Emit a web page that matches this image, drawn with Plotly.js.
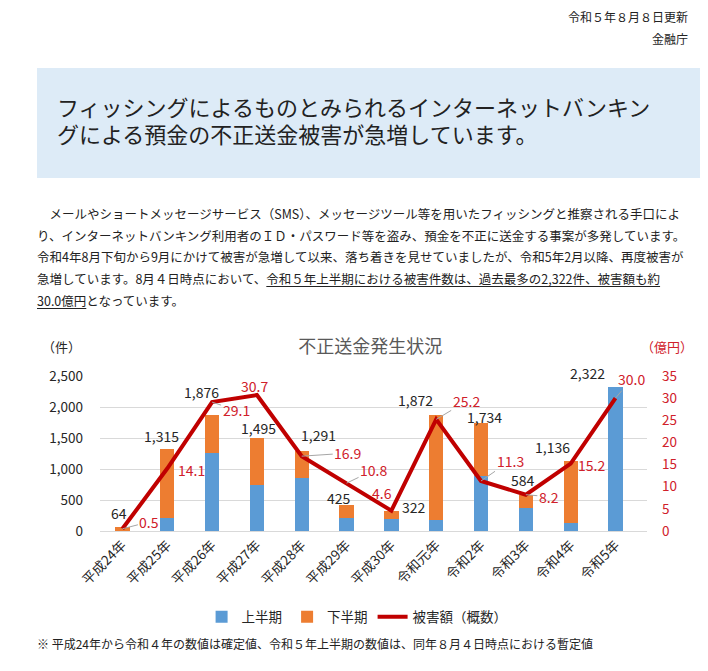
<!DOCTYPE html>
<html><head><meta charset="utf-8">
<script src="https://cdn.plot.ly/plotly-3.0.1.min.js"></script>
<style>
html,body{margin:0;padding:0;background:#fff;width:708px;height:671px;overflow:hidden;font-family:"Noto Sans CJK JP","Noto Sans",sans-serif;color:#222;}
.abs{position:absolute;white-space:nowrap;}
#chart{position:absolute;left:0;top:0;width:708px;height:671px;}
u{text-decoration:underline;text-underline-offset:2px;}
.h{position:absolute;left:57px;font-size:22px;line-height:27px;height:27px;color:#222;white-space:nowrap;}
</style></head>
<body>
<div class="abs" style="right:20px;top:9px;font-size:12px;line-height:16px;text-align:right;">令和５年８月８日更新</div>
<div class="abs" style="right:20px;top:31px;font-size:12px;line-height:16px;text-align:right;">金融庁</div>
<div class="abs" style="left:37px;top:68px;width:663px;height:110px;background:#DDEBF7;"></div>
<div class="h" style="top:93px;">フィッシングによるものとみられるインターネットバンキン</div>
<div class="h" style="top:120px;">グによる預金の不正送金被害が急増しています。</div>
<div class="abs" style="left:37px;top:203px;font-size:12.5px;line-height:21.7px;color:#222;">
　メールやショートメッセージサービス（SMS）、メッセージツール等を用いたフィッシングと推察される手口によ<br>り、インターネットバンキング利用者のＩＤ・パスワード等を盗み、預金を不正に送金する事案が多発しています。<br>令和4年8月下旬から9月にかけて被害が急増して以来、落ち着きを見せていましたが、令和5年2月以降、再度被害が<br>急増しています。8月４日時点において、<u>令和５年上半期における被害件数は、過去最多の2,322件、被害額も約</u><br><u>30.0億円</u>となっています。</div>
<div id="chart"></div>
<div class="abs" style="left:37px;top:636px;font-size:12px;line-height:16px;color:#222;">※ 平成24年から令和４年の数値は確定値、令和５年上半期の数値は、同年８月４日時点における暫定値</div>
<script>
const categories = ["平成24年","平成25年","平成26年","平成27年","平成28年","平成29年","平成30年","令和元年","令和2年","令和3年","令和4年","令和5年"];
const firstHalf  = [0, 209, 1254, 750, 850, 206, 200, 179, 882, 373, 135, 2322];
const secondHalf = [64, 1106, 622, 745, 441, 219, 122, 1693, 852, 211, 1001, 0];
const damage     = [0.5, 14.1, 29.1, 30.7, 16.9, 10.8, 4.6, 25.2, 11.3, 8.2, 15.2, 30.0];
const countTickVals = [0, 500, 1000, 1500, 2000, 2500];
const amountTickVals = [0, 5, 10, 15, 20, 25, 30, 35];

// label placement (pixel offsets, styling only)
const totalShiftX = [-3, -6, -11, 2, 17, -8, 23, -21, 3, -3, -18, -28];
const totalShiftY = [14, 13, 23, 10, 16, 7, 4, 15, 6, 15, 14, 14];
const dmgAx = [27, 24, 24, -2, 46, 27, -9, 30, 29, 23, 21, 16];
const dmgAy = [-7, 1, 8, -9, -3, -13, -18, -18, -20, 2, 1, -19];
const dmgLeader = [true, false, true, false, true, true, false, true, true, true, false, true];

const totals = categories.map((c,i)=>firstHalf[i]+secondHalf[i]);
const fmt = n => n.toLocaleString('en-US');
const jp = '"Noto Sans CJK JP", "Noto Sans", sans-serif';
const red = '#D0202A';

const traces = [
  {type:'bar', name:'上半期', x:categories, y:firstHalf, marker:{color:'#5B9BD5'}, hoverinfo:'skip'},
  {type:'bar', name:'下半期', x:categories, y:secondHalf, marker:{color:'#ED7D31'}, hoverinfo:'skip'},
  {type:'scatter', mode:'lines', name:'被害額（概数）', x:categories, y:damage, yaxis:'y2', line:{color:'#C00000', width:4}, hoverinfo:'skip'}
];

const annotations = [];
categories.forEach((c,i)=>{
  annotations.push({x:c, y:totals[i], xref:'x', yref:'y', text:fmt(totals[i]), showarrow:false,
    xshift:totalShiftX[i], yshift:totalShiftY[i], font:{family:jp, size:14, color:'#262626'}});
  annotations.push({x:c, y:damage[i], xref:'x', yref:'y2', text:damage[i].toFixed(1),
    showarrow:true, ax:dmgAx[i], ay:dmgAy[i], arrowhead:0, arrowwidth:1, standoff:0,
    arrowcolor: dmgLeader[i] ? '#A6A6A6' : 'rgba(0,0,0,0)',
    font:{family:jp, size:14, color:red}});
});
annotations.push({xref:'paper', yref:'paper', x:-0.11, y:1.19, xanchor:'left', yanchor:'middle', text:'（件）', showarrow:false, font:{family:jp, size:13, color:'#262626'}});
annotations.push({xref:'paper', yref:'paper', x:0.985, y:1.19, xanchor:'left', yanchor:'middle', text:'（億円）', showarrow:false, font:{family:jp, size:13, color:red}});

const layout = {
  width:708, height:671,
  margin:{l:100, r:61, t:376, b:140, pad:0},
  paper_bgcolor:'rgba(0,0,0,0)', plot_bgcolor:'rgba(0,0,0,0)',
  title:{text:'不正送金発生状況', x:0.523, y:0.483, xanchor:'center', yanchor:'middle', xref:'container', yref:'container', font:{family:jp, size:18, color:'#595959'}},
  barmode:'stack', bargap:0.68,
  font:{family:jp, color:'#262626'},
  xaxis:{type:'category', tickangle:-45, tickfont:{family:jp, size:13.5, color:'#262626'}, showgrid:false, showline:true, linecolor:'#D9D9D9', linewidth:1, ticks:'', fixedrange:true},
  yaxis:{range:[0,2500], tickvals:countTickVals, ticktext:countTickVals.map(fmt), tickfont:{family:jp, size:13.5, color:'#262626'}, gridcolor:'#D9D9D9', gridwidth:1, zeroline:false, showline:false, ticks:'', ticklabelstandoff:16, fixedrange:true},
  yaxis2:{overlaying:'y', side:'right', range:[0,35], tickvals:amountTickVals, tickfont:{family:jp, size:13.5, color:red}, showgrid:false, zeroline:false, showline:false, ticks:'', ticklabelstandoff:14, fixedrange:true},
  legend:{orientation:'h', x:0.47, xanchor:'center', y:-0.555, yanchor:'middle', font:{family:jp, size:13.5, color:'#262626'}, itemwidth:30, traceorder:'normal'},
  annotations:annotations,
  showlegend:true
};
Plotly.newPlot('chart', traces, layout, {displayModeBar:false, staticPlot:true});
</script>
</body></html>
